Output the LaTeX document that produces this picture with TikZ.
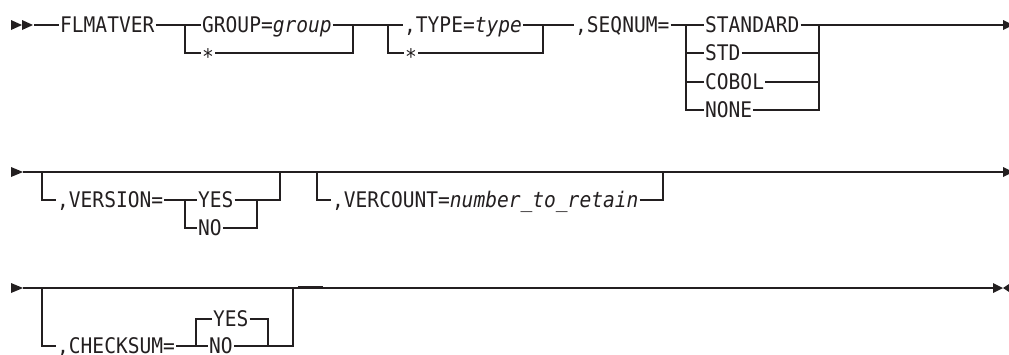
\documentclass[tikz,border=0pt]{standalone}
\usepackage{fontspec}
\setmainfont{DejaVu Sans Mono}[FakeStretch=0.91]
\definecolor{ink}{HTML}{231F20}
\begin{document}
\begin{tikzpicture}[x=1pt,y=-1pt,line width=1.3pt,draw=ink,
  lbl/.style={anchor=base west,inner xsep=0.5pt,inner ysep=0pt,text=ink,font=\fontsize{21.5}{25}\selectfont},
  star/.style={lbl},
  rail/.style={draw=ink,line width=1.3pt},
  tip/.style={fill=ink}]
\useasboundingbox (0,0) rectangle (1009,354);
\clip (0,0) rectangle (1009,354);
% ---------------- Row 1 ----------------
\coordinate (r1) at (0,25);
\coordinate (a1) at (0,53);
\fill[tip] (11,20)--(22,25)--(11,30)--cycle (22,20)--(33,25)--(22,30)--cycle;
\coordinate (s1) at (34,25);
\node[lbl] (flm) at (59,32.8) {FLMATVER};
\node[lbl] (grp) at (201,32.8) {GROUP=\textit{group}};
\node[star] (st1) at (201,64) {*};
\node[lbl] (typ) at (403,32.8) {,TYPE=\textit{type}};
\node[star] (st2) at (404,64) {*};
\node[lbl] (seq) at (574,32.8) {,SEQNUM=};
\node[lbl] (std1) at (704,32.8) {STANDARD};
\node[lbl] (std2) at (704,60.8) {STD};
\node[lbl] (cob) at (704,89.8) {COBOL};
\node[lbl] (non) at (704,117.8) {NONE};
\coordinate (g1) at (185,25); \coordinate (g2) at (353,25);
\coordinate (t1) at (388,25); \coordinate (t2) at (543,25);
\coordinate (q1) at (686,25); \coordinate (q2) at (819,25);
\coordinate (e1) at (1003,25);
\draw[rail] (s1) -- (flm.west |- r1);
\draw[rail] (flm.east |- r1) -- (g1) -- (grp.west |- r1);
\draw[rail] (grp.east |- r1) -- (g2) -- (t1) -- (typ.west |- r1);
\draw[rail] (g1) -- (g1 |- a1) -- (st1.west |- a1);
\draw[rail] (st1.east |- a1) -- (g2 |- a1) -- (g2);
\draw[rail] (t1) -- (t1 |- a1) -- (st2.west |- a1);
\draw[rail] (st2.east |- a1) -- (t2 |- a1) -- (t2);
\draw[rail] (typ.east |- r1) -- (t2) -- (seq.west |- r1);
\draw[rail] (seq.east |- r1) -- (q1) -- (std1.west |- r1);
\draw[rail] (std1.east |- r1) -- (q2) -- (e1);
\draw[rail] (q1) -- (686,110) -- (non.west |- 0,110);
\draw[rail] (q1 |- 0,53) -- (std2.west |- 0,53);
\draw[rail] (q1 |- 0,82) -- (cob.west |- 0,82);
\draw[rail] (std2.east |- 0,53) -- (q2 |- 0,53);
\draw[rail] (cob.east |- 0,82) -- (q2 |- 0,82);
\draw[rail] (non.east |- 0,110) -- (q2 |- 0,110) -- (q2);
\fill[tip] (e1) ++(0,-5) -- ++(10,5) -- ++(-10,5) -- cycle;
% ---------------- Row 2 ----------------
\coordinate (r2) at (0,172);
\coordinate (a2) at (0,200);
\coordinate (b2) at (0,228);
\fill[tip] (11,167)--(23,172)--(11,177)--cycle;
\coordinate (s2) at (23,172);
\coordinate (e2) at (1003,172);
\coordinate (v1) at (42,172); \coordinate (v2) at (280,172);
\coordinate (w1) at (317,172); \coordinate (w2) at (663,172);
\node[lbl] (ver) at (56,207.8) {,VERSION=};
\node[lbl] (vy) at (197,207.8) {YES};
\node[lbl] (vn) at (197,235.8) {NO};
\node[lbl] (vc) at (331,207.8) {,VERCOUNT=\textit{number\_to\_retain}};
\coordinate (y1) at (185,200); \coordinate (y2) at (257,200);
\draw[rail] (s2) -- (e2);
\fill[tip] (e2) ++(0,-5) -- ++(10,5) -- ++(-10,5) -- cycle;
\draw[rail] (v1) -- (v1 |- a2) -- (ver.west |- a2);
\draw[rail] (ver.east |- a2) -- (y1) -- (vy.west |- a2);
\draw[rail] (y1) -- (y1 |- b2) -- (vn.west |- b2);
\draw[rail] (vy.east |- a2) -- (y2) -- (v2 |- a2) -- (v2);
\draw[rail] (vn.east |- b2) -- (y2 |- b2) -- (y2);
\draw[rail] (w1) -- (w1 |- a2) -- (vc.west |- a2);
\draw[rail] (vc.east |- a2) -- (w2 |- a2) -- (w2);
% ---------------- Row 3 ----------------
\coordinate (r3) at (0,288);
\coordinate (a3) at (0,346);
\coordinate (c3) at (0,319);
\fill[tip] (11,283)--(23,288)--(11,293)--cycle;
\coordinate (s3) at (23,288);
\coordinate (e3) at (993,288);
\coordinate (u1) at (42,288); \coordinate (u2) at (293,288);
\node[lbl] (cks) at (56,353.8) {,CHECKSUM=};
\node[lbl] (cy) at (212,326.8) {YES};
\node[lbl] (cn) at (208,353.8) {NO};
\coordinate (z1) at (196,346); \coordinate (z2) at (268,346);
\draw[rail] (s3) -- (e3);
\draw[line width=2.2pt,draw=ink] (298,287.5) -- (323,287.5);
\fill[tip] (e3) ++(0,-5) -- ++(10,5) -- ++(-10,5) -- cycle;
\fill[tip] (1009,284) -- (1003,288) -- (1009,292) -- cycle;
\draw[rail] (u1) -- (u1 |- a3) -- (cks.west |- a3);
\draw[rail] (cks.east |- a3) -- (z1) -- (cn.west |- a3);
\draw[rail] (z1) -- (z1 |- c3) -- (cy.west |- c3);
\draw[rail] (cy.east |- c3) -- (z2 |- c3) -- (z2);
\draw[rail] (cn.east |- a3) -- (z2) -- (u2 |- a3) -- (u2);
\end{tikzpicture}
\end{document}
